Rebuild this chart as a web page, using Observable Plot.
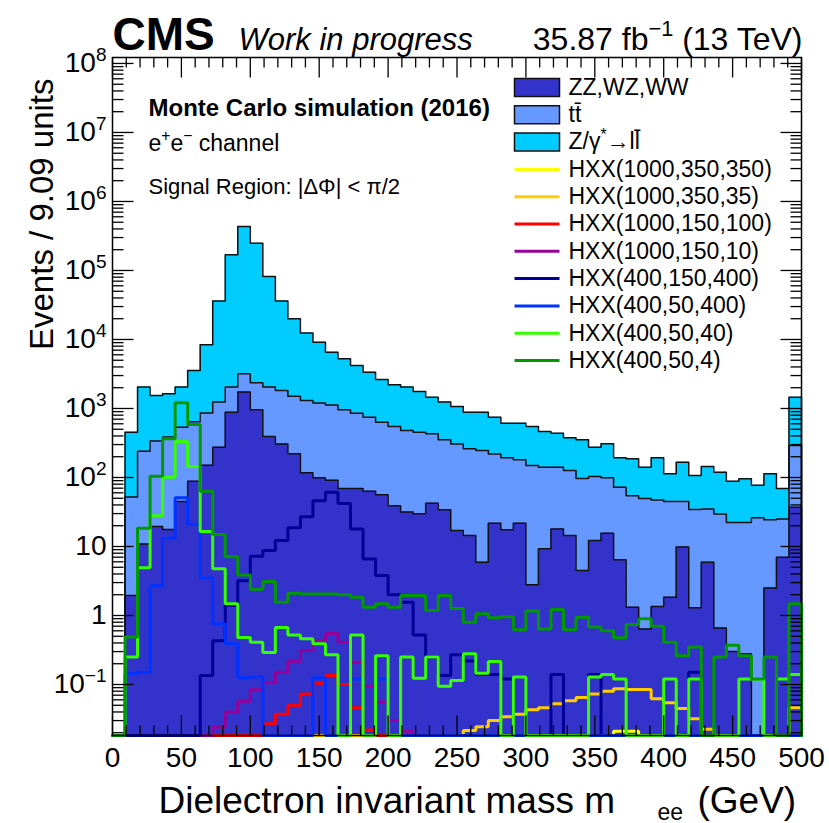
<!DOCTYPE html>
<html><head><meta charset="utf-8">
<script src="https://cdn.jsdelivr.net/npm/d3@7"></script>
<script src="https://cdn.jsdelivr.net/npm/@observablehq/plot@0.6"></script>
<style>body{margin:0;background:#fff}</style>
</head><body><div id="chart"></div>
<script>
// ---------- data ----------
const xMax = 500, nBins = 55;            // 9.09 GeV bins
const yMin = 0.01824, yMax = 1.22e8;

// background processes (events per bin)
const zzWzWw = [
  0, 1.95, 10.9, 19.5, 17.7, 45, 88, 150, 275, 885,
  1730, 957, 393, 307, 220, 117, 99, 91, 69, 69,
  63, 56, 39, 31.5, 29.8, 42.5, 34, 17, 14.4, 5.9,
  21.8, 17.5, 21.8, 2.78, 9.3, 18, 14.4, 4.5, 12.2, 15.5,
  6.4, 1.32, 0.64, 1.35, 1.84, 9.8, 1.3, 5.9, 0.66, 0.3,
  0.28, 0, 2.5, 7, 37];
const ttbar = [
  0, 50, 230, 318, 367, 490, 552, 710, 965, 1155,
  1450, 1403, 1647, 1513, 1290, 1193, 1101, 1029, 888, 786,
  685, 578, 510, 449, 424, 388, 318, 290, 247, 241,
  198, 176, 159, 146, 132, 123, 112, 92, 91, 84,
  66, 53, 49, 46, 43, 35, 33, 29, 29, 22,
  22, 26, 22, 18, 254];
const drellYan = [
  0, 402, 1800, 1202, 1245, 1505, 2920, 7520, 34760, 166960,
  430820, 246640, 79860, 34180, 18490, 11090, 7940, 5430, 4293, 3345,
  2612, 1996, 1651, 1560, 1306, 1030, 888, 763, 624, 638,
  528, 419, 431, 400, 323, 297, 250, 256, 172, 208,
  121, 133, 91, 146, 68, 122, 73, 109, 89, 66,
  74, 51, 89, 44, 1169];

// signal samples (not stacked)
const hxx_1000_350_350 = [
  0,0,0,0,0,0,0,0,0,0, 0,0,0,0,0,0,0,0,0,0, 0,0,0,0,0,0,0,0,0,0,
  0,0,0,0,0,0,0,0,0,0, 0.021,0.021,0,0,0,0,0,0,0,0, 0,0,0,0,0];
const hxx_1000_350_35 = [
  0,0,0,0,0,0,0,0,0,0, 0,0,0,0,0,0,0,0,0,0,
  0,0,0,0,0,0,0,0,0.0216,0.0245,
  0.030,0.034,0.037,0.043,0.046,0.0525,0.058,0.065,0.073,0.080,
  0.087,0.085,0.085,0.062,0.0545,0.045,0.032,0.0225,0,0,
  0,0,0,0,0.046];
const hxx_1000_150_100 = [
  0,0,0,0,0,0,0,0,0,0,
  0,0,0.027,0.037,0.050,0.073,0.104,0.135,0.100,0.046,
  0.022,0,0,0,0,0,0,0,0,0, 0,0,0,0,0,0,0,0,0,0,
  0,0,0,0,0,0,0,0,0,0, 0,0,0,0,0];
const hxx_1000_150_10 = [
  0,0,0,0,0,0,0,0,0.024,0.040,
  0.057,0.084,0.106,0.150,0.218,0.310,0.430,0.550,0.410,0.210,
  0.094,0.056,0.030,0.021,0,0,0,0,0,0, 0,0,0,0,0,0,0,0,0,0,
  0,0,0,0,0,0,0,0,0,0, 0,0,0,0,0];
const hxx_400_150_400 = [
  0,0,0,0,0,0,0,0.135,0.43,1.4,
  3.2,7.2,8.75,12.2,18.7,27,46,61,42,18,
  6.6,3.8,2.0,1.56,0.52,0.25,0.135,0.27,0.22,0.14,
  0.14,0.12,0,0,0,0.14,0,0,0.14,0,
  0,0,0,0,0,0,0.15,0,0,0, 0,0,0,0,0];
const hxx_400_50_400 = [
  0,0.143,0.15,2.7,13.2,51,21,3.5,0.76,0.39,
  0.125,0.13,0,0,0,0,0.125,0,0,0.12,
  0,0.12,0,0,0,0,0,0,0,0, 0,0,0,0,0,0,0,0,0,0,
  0,0,0,0,0,0,0,0,0,0, 0,0,0,0,0];
const hxx_400_50_40 = [
  0,0.25,4.9,28,101,332,144,16.5,4.75,1.48,
  0.48,0.41,0.29,0.67,0.52,0.46,0.39,0.27,0,0.52,
  0,0.26,0,0.25,0.123,0.25,0.094,0.114,0.28,0.146,
  0.215,0,0.128,0,0,0,0,0,0.128,0.14,
  0.12,0,0,0,0.12,0,0.12,0,0,0,
  0.12,0.12,0,0.12,0.14];
const hxx_400_50_4 = [
  0,0.49,18.4,104,363,1210,586,63,14.9,7.1,
  3.85,2.4,3.1,1.56,2.1,2.05,2.05,2.05,2.0,1.84,
  1.32,1.48,1.32,1.95,1.95,1.18,1.95,1.26,0.8,1.06,
  0.93,0.96,0.62,1.16,0.64,1.22,0.62,0.94,0.68,0.6,
  0.475,0.74,0.9,0.7,0.41,0.26,0.35,0,0.25,0.37,
  0.26,0.12,0.25,0,1.48];

const xTickLabels = [0, 50, 100, 150, 200, 250, 300, 350, 400, 450, 500];
const yTickValues = [1e-1, 1, 10, 1e2, 1e3, 1e4, 1e5, 1e6, 1e7, 1e8];
const yTickLabels = ["10\u207B\u00B9", "1", "10", "10\u00B2", "10\u00B3", "10\u2074", "10\u2075", "10\u2076", "10\u2077", "10\u2078"];

const bgNames = ["ZZ,WZ,WW", "t\u0074\u0304", "Z/\u03B3\u207E\u2192l\u006C\u0304"];
const sigNames = ["HXX(1000,350,350)", "HXX(1000,350,35)", "HXX(1000,150,100)", "HXX(1000,150,10)",
                  "HXX(400,150,400)", "HXX(400,50,400)", "HXX(400,50,40)", "HXX(400,50,4)"];

// ---------- styles ----------
const FONT = "'Liberation Sans', Arial, Helvetica, sans-serif";
const bgColors = ["#3333cc", "#6699ff", "#00ccff"];
const sigColors = ["#ffff00", "#ffcc00", "#ff0000", "#990099", "#000099", "#0033ff", "#33ff00", "#009900"];
const signals = [hxx_1000_350_350, hxx_1000_350_35, hxx_1000_150_100, hxx_1000_150_10,
                 hxx_400_150_400, hxx_400_50_400, hxx_400_50_40, hxx_400_50_4];

// ---------- helpers ----------
const edges = d3.range(nBins + 1).map(i => i * xMax / nBins);
function steps(vals) {
  const pts = [{x: 0, v: 0}];
  vals.forEach((v, i) => { pts.push({x: edges[i], v}, {x: edges[i + 1], v}); });
  pts.push({x: xMax, v: 0});
  return pts;
}
const yc = p => Math.max(p.v, yMin);

const cum1 = zzWzWw;
const cum2 = zzWzWw.map((v, i) => v + ttbar[i]);
const cum3 = cum2.map((v, i) => v + drellYan[i]);
const stackTops = [cum3, cum2, cum1];
const stackColors = [bgColors[2], bgColors[1], bgColors[0]];

const L = 112, T = 57; // frame origin
const sym = f => ({draw: f});
const tickUp = l => sym(c => { c.moveTo(0, 0); c.lineTo(0, -l); });
const tickDown = l => sym(c => { c.moveTo(0, 0); c.lineTo(0, l); });
const tickRight = l => sym(c => { c.moveTo(0, 0); c.lineTo(l, 0); });
const tickLeft = l => sym(c => { c.moveTo(0, 0); c.lineTo(-l, 0); });
const boxSym = sym(c => { c.rect(-22.5, -9, 45, 18); });
const lineSym = sym(c => { c.moveTo(-22.5, 0); c.lineTo(22.5, 0); });

function txt(str, px, py, o = {}) {
  return Plot.text([str], {text: d => d, frameAnchor: "top-left", dx: px - L, dy: py - T,
    lineAnchor: "bottom", textAnchor: "start", fill: "black", fontFamily: FONT, ...o});
}

const xMinor = d3.range(0, 501, 10).filter(v => v % 50 !== 0);
const xMajor = xTickLabels;
const yMinor = [];
for (let k = -2; k <= 8; k++) for (let m = 2; m <= 9; m++) {
  const v = m * Math.pow(10, k); if (v > yMin && v < yMax) yMinor.push(v);
}

const marks = [];
// stacked backgrounds
stackTops.forEach((vals, j) => {
  marks.push(Plot.areaY(steps(vals), {x: "x", y1: () => yMin, y2: yc, fill: stackColors[j], curve: "linear"}));
});
stackTops.forEach((vals) => {
  marks.push(Plot.line(steps(vals), {x: "x", y: yc, stroke: "#111", strokeWidth: 1.5, curve: "linear"}));
});
// signals
signals.forEach((vals, j) => {
  marks.push(Plot.line(steps(vals), {x: "x", y: yc, stroke: sigColors[j], strokeWidth: 3, curve: "linear", strokeLinejoin: "miter"}));
});
// ticks (inward, all sides)
const tk = {stroke: "black", fill: "none", strokeWidth: 1.3};
marks.push(
  Plot.dot(xMinor, {x: d => d, frameAnchor: "bottom", symbol: tickUp(10), ...tk}),
  Plot.dot(xMajor, {x: d => d, frameAnchor: "bottom", symbol: tickUp(20), ...tk}),
  Plot.dot(xMinor, {x: d => d, frameAnchor: "top", symbol: tickDown(10), ...tk}),
  Plot.dot(xMajor, {x: d => d, frameAnchor: "top", symbol: tickDown(20), ...tk}),
  Plot.dot(yMinor, {y: d => d, frameAnchor: "left", symbol: tickRight(11), ...tk}),
  Plot.dot(yTickValues, {y: d => d, frameAnchor: "left", symbol: tickRight(21), ...tk}),
  Plot.dot(yMinor, {y: d => d, frameAnchor: "right", symbol: tickLeft(11), ...tk}),
  Plot.dot(yTickValues, {y: d => d, frameAnchor: "right", symbol: tickLeft(21), ...tk}),
  Plot.frame({stroke: "black", strokeWidth: 1.5})
);
// tick labels
marks.push(
  Plot.text(xTickLabels, {x: d => d, text: d => String(d), frameAnchor: "bottom", lineAnchor: "top", dy: 12,
    fontSize: 28, fontFamily: FONT, fill: "black"}),
  Plot.text(yTickValues, {y: d => d, text: (d, i) => yTickLabels[i], frameAnchor: "left", textAnchor: "end",
    dx: -6, fontSize: 28, fontFamily: FONT, fill: "black"})
);
// axis titles
marks.push(
  txt("Dielectron invariant mass m", 158, 812, {fontSize: 37}),
  txt("ee", 657, 819, {fontSize: 23}),
  txt("(GeV)", 697, 812, {fontSize: 37}),
  txt("Events / 9.09 units", 52, 78, {fontSize: 33, rotate: -90, textAnchor: "end"})
);
// header
marks.push(
  txt("CMS", 112, 49, {fontSize: 46, fontWeight: "bold"}),
  txt("Work in progress", 238, 49, {fontSize: 31, fontStyle: "italic"}),
  txt("35.87 fb\u207B\u00B9 (13 TeV)", 802, 49, {fontSize: 32, textAnchor: "end"})
);
// annotations
marks.push(
  txt("Monte Carlo simulation (2016)", 148, 115, {fontSize: 24, fontWeight: "bold"}),
  txt("e\u207Ae\u207B channel", 148, 150, {fontSize: 23}),
  txt("Signal Region: |\u0394\u03A6| < \u03C0/2", 148, 193, {fontSize: 22})
);
// legend
const legY0 = 87, legStep = 27.3, legBoxX = 536.5, legTextX = 568;
bgNames.forEach((name, k) => {
  const y = legY0 + k * legStep;
  marks.push(Plot.dot([name], {frameAnchor: "top-left", dx: legBoxX - L, dy: y - T, symbol: boxSym,
    fill: bgColors[k], stroke: "#111", strokeWidth: 1.5}));
  marks.push(txt(name, legTextX, y, {fontSize: 23, lineAnchor: "middle"}));
});
sigNames.forEach((name, k) => {
  const y = legY0 + (k + 3) * legStep;
  marks.push(Plot.dot([name], {frameAnchor: "top-left", dx: legBoxX - L, dy: y - T, symbol: lineSym,
    fill: "none", stroke: sigColors[k], strokeWidth: 3}));
  marks.push(txt(name, legTextX, y, {fontSize: 23, lineAnchor: "middle"}));
});

const chart = Plot.plot({
  width: 829, height: 823,
  marginLeft: L, marginRight: 28, marginTop: T, marginBottom: 88,
  x: {domain: [0, xMax], axis: null},
  y: {type: "log", domain: [yMin, yMax], axis: null},
  style: {fontFamily: FONT, background: "white", overflow: "visible"},
  marks
});
document.getElementById("chart").appendChild(chart);

// render superscript characters as raised tspans (ROOT-style exponents)
const supMap = {"\u207B": "\u2212", "\u207A": "+", "\u207E": "*", "\u2070": "0", "\u00B9": "1", "\u00B2": "2", "\u00B3": "3",
  "\u2074": "4", "\u2075": "5", "\u2076": "6", "\u2077": "7", "\u2078": "8", "\u2079": "9"};
const supRe = /[\u207B\u207A\u207E\u2070\u00B9\u00B2\u00B3\u2074-\u2079]/;
d3.select(chart).selectAll("text").each(function () {
  const s = this.textContent;
  if (!supRe.test(s)) return;
  const fs = parseFloat(getComputedStyle(this).fontSize) || 20;
  const runs = [];
  for (const ch of s) {
    const sup = supRe.test(ch);
    if (runs.length && runs[runs.length - 1].sup === sup) runs[runs.length - 1].t += sup ? supMap[ch] : ch;
    else runs.push({sup, t: sup ? supMap[ch] : ch});
  }
  while (this.firstChild) this.removeChild(this.firstChild);
  const rise = 0.42 * fs;
  let raised = false;
  runs.forEach(r => {
    const ts = document.createElementNS("http://www.w3.org/2000/svg", "tspan");
    ts.textContent = r.t;
    if (r.sup) { ts.setAttribute("dy", -rise); ts.setAttribute("font-size", 0.68 * fs); raised = true; }
    else if (raised) { ts.setAttribute("dy", rise); raised = false; }
    this.appendChild(ts);
  });
});
</script>
</body></html>
